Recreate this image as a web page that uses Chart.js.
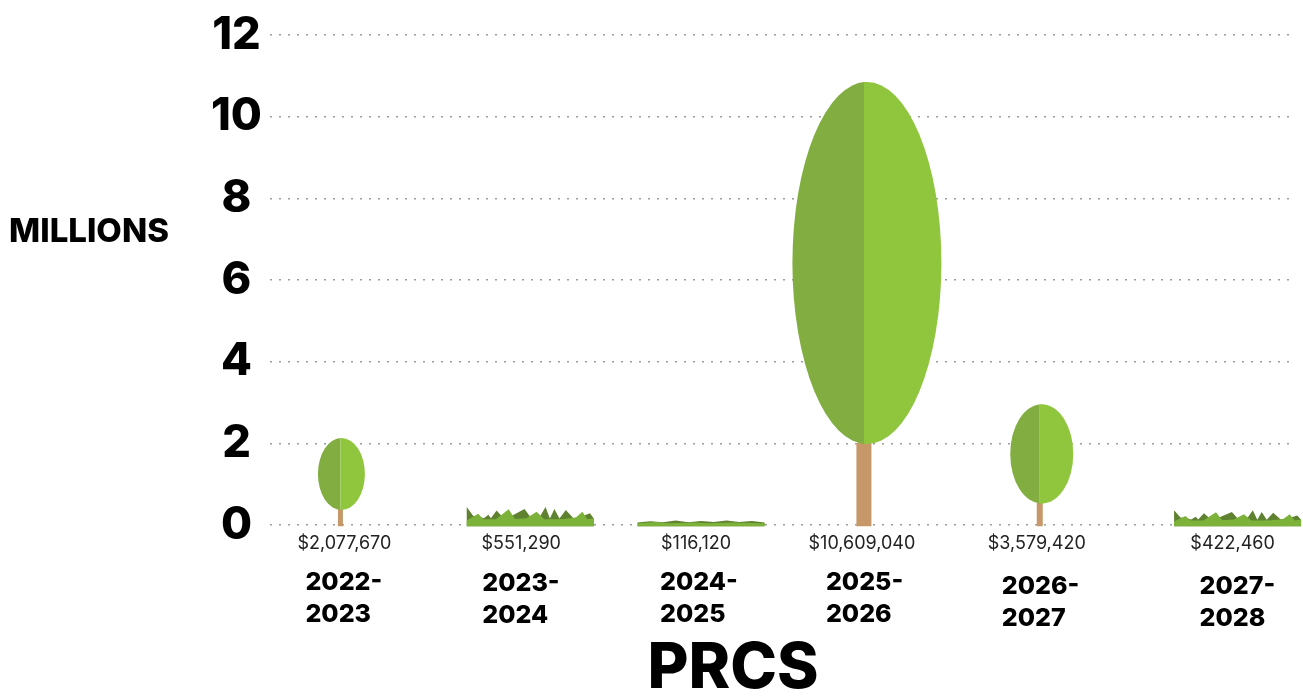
<!DOCTYPE html>
<html>
<head>
<meta charset="utf-8">
<title>PRCS</title>
<script src="https://cdn.jsdelivr.net/npm/chart.js@4/dist/chart.umd.js"></script>
<style>
  html, body { margin: 0; padding: 0; background: #fff; }
  canvas { display: block; }
</style>
</head>
<body>
<canvas id="prcsChart" width="1303" height="696"></canvas>
<script>
// values
const categories = ["2022-\n2023", "2023-\n2024", "2024-\n2025", "2025-\n2026", "2026-\n2027", "2027-\n2028"];
const amounts = [2077670, 551290, 116120, 10609040, 3579420, 422460];
// the pictograms are not drawn to the printed amounts, so their height is read separately (millions)
const drawnHeights = [2.13, 0.44, 0.12, 10.85, 2.96, 0.36];
const markKinds = ["tree", "grass", "lawn", "tree", "tree", "grass"];
const yTicks = [0, 2, 4, 6, 8, 10, 12];

// the original labels and marks are hand placed, so each is shifted from its category centre
const markShift = [-15, 4, 4, -4, 1, 28];
const amountShift = [-11, -5, -1, -6, -2, 23];
const yearShift = [-50, -44, -37, -42, -37, -10];
const yearDrop = [0, 1, 0, 0, 4, 4];
const crownWidth = [47, 0, 0, 149, 63, 0];
const crownOffset = [1, 0, 0, 3, 2, 0];
const trunkWidth = [5, 0, 0, 15, 6, 0];
const grassWidth = 127;
const crownShare = 0.815;

const grassDark = [[0, 1], [0.05, 0.55], [0.1, 0.5], [0.135, 0.42], [0.17, 0.6], [0.19, 0.42], [0.235, 0.82], [0.29, 0.42], [0.34, 0.5], [0.455, 0.9], [0.51, 0.4], [0.58, 0.55], [0.62, 1], [0.655, 0.4], [0.69, 0.9], [0.73, 0.4], [0.78, 0.85], [0.84, 0.42], [0.92, 0.55], [0.97, 0.68], [1, 0.4]];
const grassLight = [[0, 0.3], [0.09, 0.65], [0.13, 0.36], [0.23, 0.36], [0.33, 0.88], [0.38, 0.38], [0.47, 0.42], [0.55, 0.75], [0.61, 0.36], [0.7, 0.36], [0.77, 0.38], [0.86, 0.45], [0.91, 0.75], [0.95, 0.36], [1, 0.42]];
const lawnDark = [[0, 0.6], [0.1, 0.8], [0.2, 0.65], [0.3, 0.95], [0.4, 0.65], [0.5, 0.85], [0.6, 0.7], [0.7, 0.95], [0.8, 0.7], [0.9, 0.85], [1, 0.6]];
const lawnLight = [[0, 0.5], [0.15, 0.7], [0.25, 0.5], [0.45, 0.6], [0.55, 0.5], [0.75, 0.6], [1, 0.5]];

const headFont = "Inter, 'DejaVu Sans', sans-serif";

function drawGrassLayer(ctx, x, base, h, profile, colour) {
  ctx.fillStyle = colour;
  ctx.beginPath();
  ctx.moveTo(x - grassWidth / 2, base);
  profile.forEach((p) => {
    ctx.lineTo(x - grassWidth / 2 + p[0] * grassWidth, base - p[1] * h);
  });
  ctx.lineTo(x + grassWidth / 2, base);
  ctx.closePath();
  ctx.fill();
}

function drawCrownHalf(ctx, x, cy, i, crownH, from, to, colour) {
  ctx.save();
  ctx.beginPath();
  ctx.rect(from, cy - crownH, to - from, crownH * 2);
  ctx.clip();
  ctx.fillStyle = colour;
  ctx.beginPath();
  ctx.ellipse(x + crownOffset[i], cy, crownWidth[i] / 2, crownH / 2, 0, 0, Math.PI * 2);
  ctx.fill();
  ctx.restore();
}

function drawTree(ctx, x, top, base, i) {
  const crownH = (base - top) * crownShare;
  const cy = top + crownH / 2;

  ctx.fillStyle = "#c69768";
  ctx.fillRect(x - trunkWidth[i] / 2, top + crownH - 1, trunkWidth[i], base - top - crownH + 1);

  // left half is the darker one
  drawCrownHalf(ctx, x, cy, i, crownH, x - crownWidth[i], x, "#82ad41");
  drawCrownHalf(ctx, x, cy, i, crownH, x, x + crownWidth[i], "#8fc63e");
}

const pictogramPlugin = {
  id: "pictograms",
  afterDatasetsDraw(chart) {
    const ctx = chart.ctx;
    const meta = chart.getDatasetMeta(0);
    ctx.save();
    meta.data.forEach((bar, i) => {
      const x = bar.x + markShift[i];
      const base = bar.base + 2;
      const h = base - bar.y;
      if (markKinds[i] === "tree") {
        drawTree(ctx, x, bar.y, base, i);
      } else if (markKinds[i] === "grass") {
        drawGrassLayer(ctx, x, base, h, grassDark, "#5f8231");
        drawGrassLayer(ctx, x, base, h, grassLight, "#7db23a");
      } else {
        drawGrassLayer(ctx, x, base, h, lawnDark, "#5f8231");
        drawGrassLayer(ctx, x, base, h, lawnLight, "#7db23a");
      }
    });
    ctx.restore();
  },
  afterDraw(chart) {
    const ctx = chart.ctx;
    const xScale = chart.scales.x;
    ctx.save();
    ctx.textBaseline = "middle";

    categories.forEach((label, i) => {
      const tickX = xScale.getPixelForTick(i);

      ctx.fillStyle = "#222";
      ctx.font = "400 18px " + headFont;
      ctx.textAlign = "center";
      ctx.fillText("$" + amounts[i].toLocaleString("en-US"), tickX + amountShift[i], 544);

      ctx.fillStyle = "#000";
      ctx.font = "800 25px " + headFont;
      ctx.textAlign = "left";
      label.split("\n").forEach((line, k) => {
        ctx.fillText(line, tickX + yearShift[i], 582 + yearDrop[i] + k * 32);
      });
    });

    ctx.fillStyle = "#000";
    ctx.textAlign = "center";
    ctx.font = "800 33px " + headFont;
    ctx.fillText("MILLIONS", 89, 232);
    ctx.font = "800 63px " + headFont;
    ctx.fillText("PRCS", 733, 669);
    ctx.restore();
  },
};

new Chart(document.getElementById("prcsChart").getContext("2d"), {
  type: "bar",
  data: {
    labels: categories,
    datasets: [
      {
        label: "PRCS",
        data: drawnHeights,
        backgroundColor: "rgba(0, 0, 0, 0)", // drawn as pictograms by the plugin
        borderWidth: 0,
      },
    ],
  },
  options: {
    responsive: false,
    animation: false,
    layout: { padding: { top: 33, right: 8, bottom: 171, left: 0 } },
    scales: {
      x: {
        grid: { display: false, drawTicks: false },
        border: { display: false },
        ticks: { display: false },
      },
      y: {
        min: 0,
        max: 12,
        afterFit(scale) {
          scale.width = 270;
        },
        afterBuildTicks(scale) {
          scale.ticks = yTicks.map((v) => ({ value: v }));
        },
        grid: { color: "#9c9c9c", lineWidth: 1.5, drawTicks: false },
        border: { display: false, dash: [2, 7] },
        ticks: {
          color: "#000",
          padding: 8,
          crossAlign: "center",
          font: { family: headFont, size: 45, weight: "800" },
        },
      },
    },
    plugins: {
      legend: { display: false },
      tooltip: { enabled: false },
    },
  },
  plugins: [pictogramPlugin],
});
</script>
</body>
</html>
